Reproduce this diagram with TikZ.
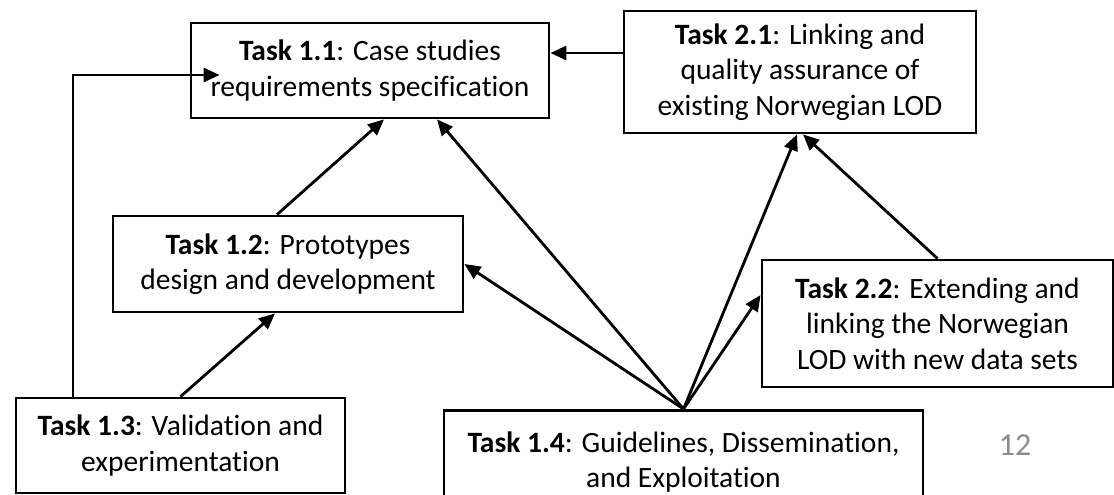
\documentclass[tikz,border=0pt]{standalone}
\usepackage{fontspec}
\setmainfont{Carlito}[Ligatures=NoCommon]
\usetikzlibrary{arrows.meta}
\begin{document}
\begin{tikzpicture}[x=1pt,y=-1pt,
  task/.style={draw=black,line width=2.8pt,fill=white,inner sep=0pt,align=center,
    font=\fontsize{29.5}{35.5}\selectfont},
  arr/.style={line width=2.8pt,-{Triangle[length=16pt,width=14pt]}},
  pagenum/.style={text=black!45,font=\fontsize{32}{38}\selectfont,inner sep=0pt}]
\useasboundingbox (0,0) rectangle (1114,495);
\clip (0,0) rectangle (1114,495);
\node[task,minimum width=358pt,minimum height=95pt] (t11) at (370,70.5)
  {\textbf{Task 1.1}: Case studies\\requirements specification};
\node[task,minimum width=352pt,minimum height=122pt] (t21) at (800,72)
  {\textbf{Task 2.1}: Linking and\\quality assurance of\\existing Norwegian LOD};
\node[task,minimum width=350pt,minimum height=96pt] (t12) at (288,264)
  {\textbf{Task 1.2}: Prototypes\\design and development};
\node[task,minimum width=329pt,minimum height=95pt] (t13) at (180.5,445.5)
  {\textbf{Task 1.3}: Validation and\\experimentation};
\node[task,minimum width=351pt,minimum height=127pt] (t22) at (937.5,323.5)
  {\textbf{Task 2.2}: Extending and\\linking the Norwegian\\LOD with new data sets};
\node[task,minimum width=479pt,minimum height=102pt,anchor=north] (t14) at (683.5,409) {};
\node[task,draw=none,fill=none,anchor=north] (t14txt) at (683.5,430)
  {\textbf{Task 1.4}: Guidelines, Dissemination,\\and Exploitation};
\node[pagenum] (pn) at (1015,445) {12};
\coordinate (tip11) at ([xshift=30pt,yshift=-4.5pt]t11.west);
% connectors
\draw[arr] ([yshift=19pt]t21.west) -- ([yshift=17.5pt]t11.east);
\draw[arr] ([xshift=-107.5pt]t13.north) |- (tip11);
\draw[arr] (t13.north) -- ([xshift=-13pt]t12.south);
\draw[arr] ([xshift=-11pt]t12.north) -- ([xshift=14pt]t11.south);
\draw[arr] (t14.north) -- ([xshift=67pt]t11.south);
\draw[arr] (t14.north) -- (t12.east);
\draw[arr] (t14.north) -- ([xshift=-3pt]t21.south);
\draw[arr] (t14.north) -- ([yshift=28.5pt]t22.west);
\draw[arr] (t22.north) -- ([xshift=3pt]t21.south);
\end{tikzpicture}
\end{document}
